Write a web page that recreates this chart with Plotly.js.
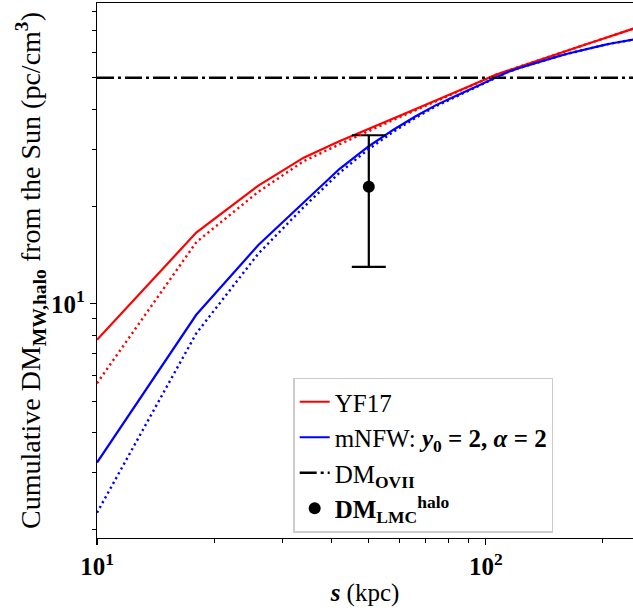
<!DOCTYPE html>
<html>
<head>
<meta charset="utf-8">
<script src="https://cdn.plot.ly/plotly-3.0.1.min.js"></script>
<style>html,body{margin:0;padding:0;background:#fff;}#chart{width:633px;height:610px;}</style>
</head>
<body>
<div id="chart"></div>
<script>
// distance from the Sun (kpc)
const s_kpc = [10,18,26,34,42,50,58,66,74,82,90,98,106,114,122,130,138,146,154,162,170,178,186,194,202,210,218,226,234,242,250];
// YF17 cumulative DM (solid) and its dotted variant
const yf17 = [7.74,16.6,23.2,28.3,31.8,34.85,37.5,40.0,42.5,44.8,46.9,49.0,51.05,52.6,54.1,55.5,56.9,58.2,59.4,60.7,61.8,63.0,64.1,65.2,66.2,67.3,68.3,69.3,70.3,71.2,72.2];
const yf17_dot = [5.68,15.5,22.2,27.6,31.1,34.3,37.1,39.7,42.2,44.6,46.8,48.9,51.0,52.6,54.1,55.5,56.9,58.2,59.4,60.7,61.8,63.0,64.1,65.2,66.2,67.3,68.3,69.3,70.3,71.2,72.2];
// mNFW (y0=2, alpha=2) cumulative DM (solid) and dotted variant
const mnfw = [3.23,9.25,15.2,20.6,26.1,30.7,34.6,38.0,41.0,43.4,45.6,47.9,50.1,52.1,53.6,54.9,56.1,57.25,58.3,59.3,60.2,61.05,61.8,62.5,63.2,63.8,64.35,64.85,65.3,65.75,66.2];
const mnfw_dot = [2.26,8.1,14.3,19.9,25.4,30.1,34.1,37.6,40.7,43.2,45.4,47.7,50.0,52.1,53.6,54.9,56.1,57.25,58.3,59.3,60.2,61.05,61.8,62.5,63.2,63.8,64.35,64.85,65.3,65.75,66.2];
// DM_OVII constant level
const dm_ovii = 50;
const ovii_s = [10, 250];
// LMC halo DM measurement
const lmc_s = [50];
const lmc_dm = [23.0];
const lmc_err_plus = [10.2];
const lmc_err_minus = [10.0];
// axis ticks
const xMajor = [10, 100];
const xMajorText = ['<b>10<sup>1</sup></b>', '<b>10<sup>2</sup></b>'];
const xMinor = [20,30,40,50,60,70,80,90,200];
const yMajor = [10];
const yMajorText = ['<b>10<sup>1</sup></b>'];
const yMinor = [2,3,4,5,6,7,8,9,20,30,40,50,60,70,80];

const FONT = 'Liberation Serif, DejaVu Serif, serif';

const traces = [
  {x: s_kpc, y: yf17, mode: 'lines', name: 'YF17', legendgroup: 'a',
   line: {color: '#ff0000', width: 2.2}},
  {x: s_kpc, y: mnfw, mode: 'lines', name: 'mNFW: <b><i>y</i><sub>0</sub> = 2, <i>α</i> = 2</b>', legendgroup: 'b',
   line: {color: '#0000ff', width: 2.2}},
  {x: ovii_s, y: ovii_s.map(() => dm_ovii), mode: 'lines', name: 'DM<sub><b>OVII</b></sub>', legendgroup: 'c',
   line: {color: '#000000', width: 2.5, dash: '17px,4px,3px,4px'}},
  {x: lmc_s, y: lmc_dm, mode: 'markers', name: '<b>DM<sub>LMC</sub><sup>halo</sup></b>', legendgroup: 'd',
   marker: {color: '#000000', size: 12},
   error_y: {type: 'data', symmetric: false, array: lmc_err_plus, arrayminus: lmc_err_minus,
             color: '#000000', thickness: 2.2, width: 17}},
  {x: s_kpc, y: yf17_dot, mode: 'lines', showlegend: false,
   line: {color: '#ff0000', width: 2.4, dash: '2.2px,3.3px'}},
  {x: s_kpc, y: mnfw_dot, mode: 'lines', showlegend: false,
   line: {color: '#0000ff', width: 2.4, dash: '2.2px,3.3px'}}
];

const axisCommon = {
  type: 'log', showgrid: false, zeroline: false,
  showline: true, linecolor: '#000', linewidth: 1.2,
  ticks: 'outside', ticklen: 6, tickwidth: 1.2, tickcolor: '#000',
  tickfont: {family: FONT, size: 25, color: '#000'}
};

const layout = {
  width: 633, height: 610,
  margin: {l: 97, r: 0, t: 3, b: 72},
  paper_bgcolor: '#fff', plot_bgcolor: '#fff',
  font: {family: FONT, color: '#000'},
  showlegend: true,
  legend: {x: 0.366, y: 0.30, xanchor: 'left', yanchor: 'top',
           bgcolor: 'rgba(255,255,255,0.9)', bordercolor: '#cccccc', borderwidth: 1.5,
           font: {family: FONT, size: 25, color: '#000'}, tracegroupgap: 4,
           traceorder: 'normal'},
  xaxis: Object.assign({}, axisCommon, {
    range: [1, Math.log10(239)], mirror: true,
    tickmode: 'array', tickvals: xMajor, ticktext: xMajorText,
    minor: {tickmode: 'array', tickvals: xMinor, ticklen: 3.5, tickwidth: 1, tickcolor: '#000', showgrid: false},
    title: {text: '<b><i>s</i></b> (kpc)', font: {family: FONT, size: 25, color: '#000'}, standoff: 4}
  }),
  yaxis: Object.assign({}, axisCommon, {
    range: [0.276, 1.930], mirror: false,
    tickmode: 'array', tickvals: yMajor, ticktext: yMajorText,
    minor: {tickmode: 'array', tickvals: yMinor, ticklen: 3.5, tickwidth: 1, tickcolor: '#000', showgrid: false},
    title: {text: 'Cumulative DM<sub><b>MW,halo</b></sub> from the Sun (pc/cm<sup><b>3</b></sup>)',
            font: {family: FONT, size: 28, color: '#000'}, standoff: 2}
  })
};

Plotly.newPlot('chart', traces, layout, {displayModeBar: false, staticPlot: true});
</script>
</body>
</html>
